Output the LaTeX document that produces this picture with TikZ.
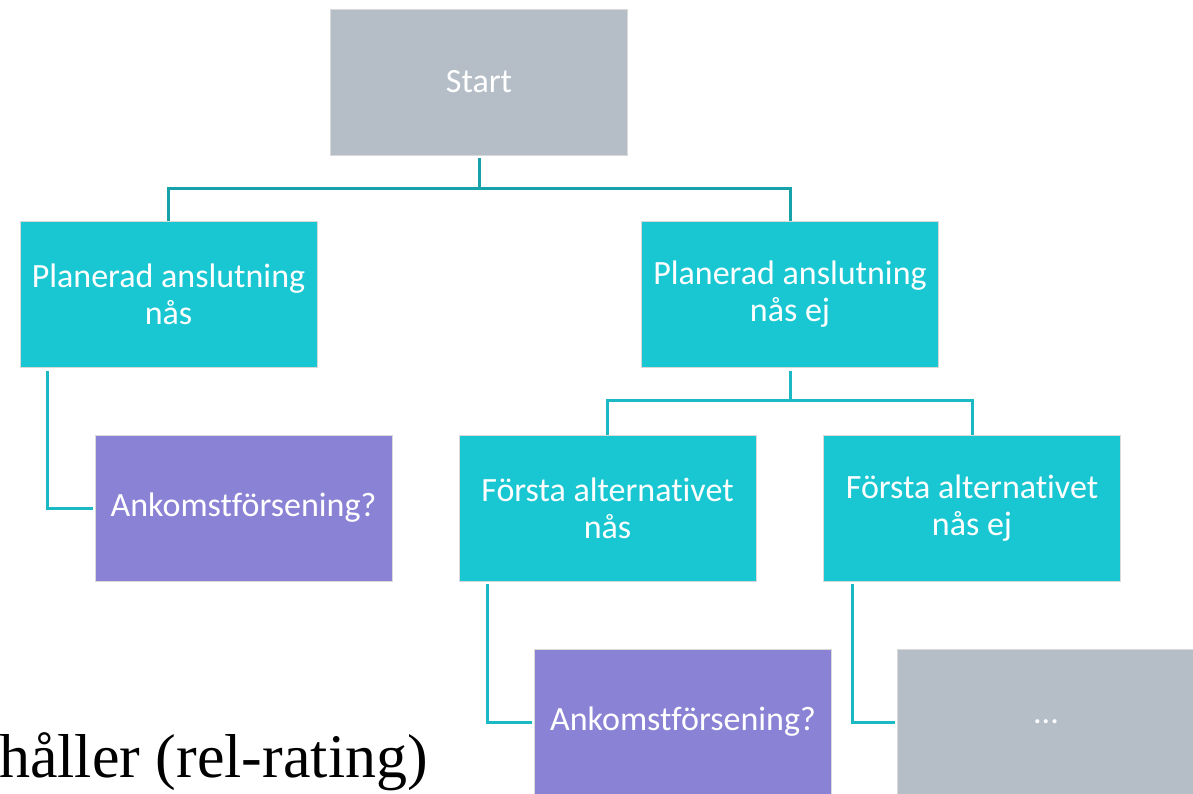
\documentclass[tikz,border=0pt]{standalone}
\usepackage{fontspec}
\setmainfont[Ligatures={NoCommon}]{Carlito}
\newfontfamily\serifbig{Liberation Serif}
\definecolor{boxgray}{HTML}{B5BEC7}
\definecolor{boxteal}{HTML}{19C7D2}
\definecolor{boxpurple}{HTML}{8A82D4}
\definecolor{linedark}{HTML}{17A2AA}
\definecolor{linelight}{HTML}{1BB9C3}
\tikzset{
  box/.style={rectangle, draw=white!85!black, line width=0.6pt, text=white, align=center,
    minimum width=297pt, minimum height=146pt, inner sep=0pt,
    font=\fontsize{34pt}{37pt}\selectfont},
  graybox/.style={box, fill=boxgray},
  tealbox/.style={box, fill=boxteal},
  purplebox/.style={box, fill=boxpurple},
  toplink/.style={draw=linedark, line width=3pt},
  sidelink/.style={draw=linelight, line width=3pt},
}
\begin{document}
\begin{tikzpicture}[x=1pt,y=-1pt]
\useasboundingbox (0,0) rectangle (1193,794);
\clip (0,0) rectangle (1193,794);
\node[graybox] (start) at (479,82) {Start};
\node[tealbox] (p1) at (168.5,294.5) {Planerad anslutning\\nås};
\node[tealbox] (p2) at (790,294.5) {Planerad anslutning\\nås ej};
\node[purplebox] (a1) at (243.5,508) {Ankomstförsening?};
\node[tealbox] (f1) at (607.5,508) {Första alternativet\\nås};
\node[tealbox] (f2) at (972,508) {Första alternativet\\nås ej};
\node[purplebox] (a2) at (683,722) {Ankomstförsening?};
\node[graybox] (dots) at (1046,722) {...};
\node[anchor=base east, inner sep=0pt, font=\serifbig\fontsize{62pt}{70pt}\selectfont] (txt) at (428,777) {håller (rel-rating)};
% connectors
\coordinate (j0) at ([yshift=-33pt]start.south);
\draw[toplink] ([yshift=-3pt]start.south) -- (j0);
\draw[toplink] (j0) -| (p1.north);
\draw[toplink] (j0) -| (p2.north);
\coordinate (j1) at ([yshift=-33pt]p2.south);
\draw[sidelink] ([yshift=-3pt]p2.south) -- (j1);
\draw[sidelink] (j1) -| (f1.north);
\draw[sidelink] (j1) -| (f2.north);
\draw[sidelink] ([xshift=28pt,yshift=-3pt]p1.south west) |- ([xshift=-2pt]a1.west);
\draw[sidelink] ([xshift=29pt,yshift=-3pt]f1.south west) |- ([xshift=-2pt]a2.west);
\draw[sidelink] ([xshift=29pt,yshift=-3pt]f2.south west) |- ([xshift=-2pt]dots.west);
\end{tikzpicture}
\end{document}
